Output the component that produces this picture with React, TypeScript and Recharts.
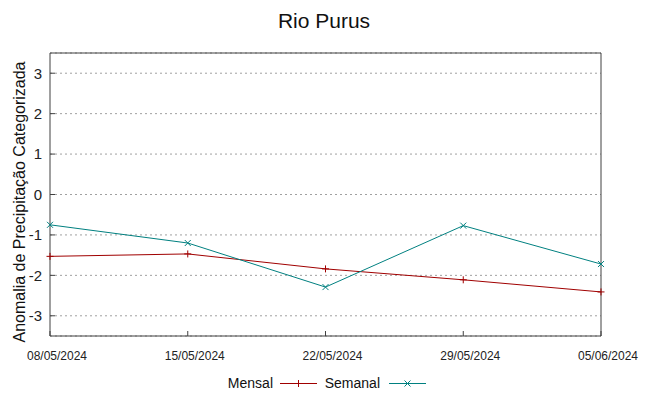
import React from 'react';
import { LineChart, Line, XAxis, YAxis, CartesianGrid } from 'recharts';

const dates = ['08/05/2024', '15/05/2024', '22/05/2024', '29/05/2024', '05/06/2024'];
const mensal = [-1.53, -1.47, -1.84, -2.11, -2.41];
const semanal = [-0.75, -1.2, -2.29, -0.77, -1.72];
const yTicks = [-3, -2, -1, 0, 1, 2, 3];

const RED = '#a00000';
const TEAL = '#008080';
const FRAME = '#404040';
const FONT = '"Liberation Sans", Arial, sans-serif';

const data = dates.map((d, i) => ({ date: d, mensal: mensal[i], semanal: semanal[i] }));

const PlusDot = (p: any) => {
  const { cx, cy, stroke } = p;
  if (cx == null || cy == null) return <g key={p.index} />;
  return (
    <path key={p.index} d={`M${cx - 3.5},${cy}h7M${cx},${cy - 3.5}v7`} stroke={stroke} strokeWidth={1} fill="none" />
  );
};

const XDot = (p: any) => {
  const { cx, cy, stroke } = p;
  if (cx == null || cy == null) return <g key={p.index} />;
  return (
    <path key={p.index} d={`M${cx - 3},${cy - 3}l6,6M${cx - 3},${cy + 3}l6,-6`} stroke={stroke} strokeWidth={1} fill="none" />
  );
};

export default function App() {
  return (
    <div style={{ position: 'absolute', left: 0, top: 0, width: 649, height: 396, background: '#fff', fontFamily: FONT }}>
      <LineChart width={649} height={396} data={data} margin={{ top: 0, right: 0, bottom: 0, left: 0 }}>
        <CartesianGrid vertical={false} stroke="#a0a0a0" strokeDasharray="2 3" yAxisId="left" />
        <XAxis
          dataKey="date"
          xAxisId="bottom"
          orientation="bottom"
          height={60}
          axisLine={{ stroke: FRAME }}
          tickLine={{ stroke: FRAME }}
          tickSize={-5}
          tickMargin={20}
          interval={0}
          tick={{ fontSize: 12, fill: '#222', dx: 7, fontFamily: FONT }}
        />
        <XAxis
          dataKey="date"
          xAxisId="top"
          orientation="top"
          height={53}
          axisLine={{ stroke: FRAME }}
          tickLine={{ stroke: FRAME }}
          tickSize={-5}
          interval={0}
          tick={false}
        />
        <YAxis
          yAxisId="left"
          orientation="left"
          width={50}
          domain={[-3.5, 3.5]}
          ticks={yTicks}
          type="number"
          axisLine={{ stroke: FRAME }}
          tickLine={{ stroke: FRAME }}
          tickSize={-5}
          tickMargin={13}
          interval={0}
          tick={{ fontSize: 15, fill: '#222', fontFamily: FONT }}
        />
        <YAxis
          yAxisId="right"
          orientation="right"
          width={48}
          domain={[-3.5, 3.5]}
          ticks={yTicks}
          type="number"
          axisLine={{ stroke: FRAME }}
          tickLine={{ stroke: FRAME }}
          tickSize={-5}
          interval={0}
          tick={false}
        />
        <Line
          xAxisId="bottom"
          yAxisId="left"
          type="linear"
          dataKey="mensal"
          stroke={RED}
          strokeWidth={1}
          dot={(p: any) => <PlusDot {...p} key={p.index} />}
          activeDot={false}
          isAnimationActive={false}
        />
        <Line
          xAxisId="bottom"
          yAxisId="left"
          type="linear"
          dataKey="semanal"
          stroke={TEAL}
          strokeWidth={1}
          dot={(p: any) => <XDot {...p} key={p.index} />}
          activeDot={false}
          isAnimationActive={false}
        />
      </LineChart>
      <svg width={649} height={396} style={{ position: 'absolute', left: 0, top: 0, pointerEvents: 'none' }}>
        <text x={324} y={28} textAnchor="middle" fontSize={21} fill="#111" fontFamily={FONT}>Rio Purus</text>
        <text x={25} y={202} transform="rotate(-90 25 202)" textAnchor="middle" fontSize={16} fill="#111" fontFamily={FONT}>
          Anomalia de Precipitação Categorizada
        </text>
        <text x={273} y={388} textAnchor="end" fontSize={14} fill="#111" fontFamily={FONT}>Mensal</text>
        <line x1={280} y1={383.5} x2={317} y2={383.5} stroke={RED} strokeWidth={1} />
        <PlusDot cx={298.5} cy={383.5} stroke={RED} index={0} />
        <text x={380} y={388} textAnchor="end" fontSize={14} fill="#111" fontFamily={FONT}>Semanal</text>
        <line x1={389} y1={383.5} x2={426} y2={383.5} stroke={TEAL} strokeWidth={1} />
        <XDot cx={407.5} cy={383.5} stroke={TEAL} index={0} />
      </svg>
    </div>
  );
}
